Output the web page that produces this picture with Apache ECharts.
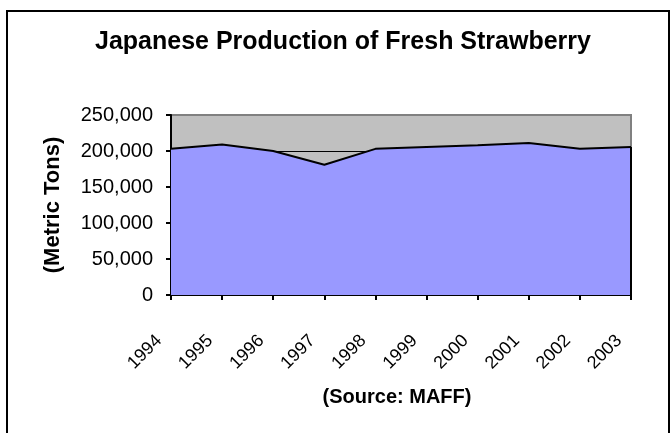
<!DOCTYPE html>
<html>
<head>
<meta charset="utf-8">
<script src="https://cdn.jsdelivr.net/npm/echarts@6/dist/echarts.min.js"></script>
<style>
  html, body { margin: 0; padding: 0; background: #fff; }
  #chart { width: 671px; height: 433px; }
</style>
</head>
<body>
<div id="chart"></div>
<script>
// production data (metric tons)
const years = ['1994', '1995', '1996', '1997', '1998', '1999', '2000', '2001', '2002', '2003']
const production = [203000, 209000, 200000, 181000, 203000, 205500, 208000, 211000, 203000, 205500]
const yTicks = [0, 50000, 100000, 150000, 200000, 250000]

const chart = echarts.init(document.getElementById('chart'))

const fmt = v => v.toLocaleString('en-US')
const lastYear = years[years.length - 1]
const lastValue = production[production.length - 1]

chart.setOption({
  animation: false,
  textStyle: { fontFamily: 'Liberation Sans, Arial, sans-serif' },
  graphic: [
    // outer chart border
    {
      type: 'rect',
      shape: { x: 7, y: 11, width: 662, height: 440 },
      style: { fill: 'none', stroke: '#000', lineWidth: 2 },
      silent: true
    },
    {
      type: 'text',
      x: 343,
      y: 42,
      style: {
        text: 'Japanese Production of Fresh Strawberry',
        font: 'bold 25px "Liberation Sans", Arial, sans-serif',
        fill: '#000',
        align: 'center',
        verticalAlign: 'middle'
      }
    },
    {
      type: 'text',
      x: 397,
      y: 397,
      style: {
        text: '(Source: MAFF)',
        font: 'bold 20px "Liberation Sans", Arial, sans-serif',
        fill: '#000',
        align: 'center',
        verticalAlign: 'middle'
      }
    }
  ],
  grid: {
    left: 171,
    right: 40,
    top: 115,
    bottom: 138,
    show: true,
    backgroundColor: '#C0C0C0',
    borderColor: '#808080',
    borderWidth: 2
  },
  xAxis: {
    type: 'category',
    data: years,
    boundaryGap: false,
    axisLine: { show: true, lineStyle: { color: '#000', width: 2 } },
    axisTick: { show: true, length: 5, lineStyle: { color: '#000', width: 2 } },
    axisLabel: {
      rotate: 45,
      interval: 0,
      margin: 31,
      padding: [0, 17, 0, 0],
      color: '#000',
      fontSize: 18
    },
    splitLine: { show: false }
  },
  yAxis: {
    type: 'value',
    min: 0,
    max: 250000,
    interval: 50000,
    name: '(Metric Tons)',
    nameLocation: 'middle',
    nameRotate: 90,
    nameGap: 107,
    nameTextStyle: { fontSize: 22, fontWeight: 'bold', color: '#000' },
    axisLine: { show: true, lineStyle: { color: '#000', width: 2 } },
    axisTick: { show: true, length: 5, lineStyle: { color: '#000', width: 2 } },
    axisLabel: {
      margin: 18,
      color: '#000',
      fontSize: 20,
      formatter: v => yTicks.includes(v) ? fmt(v) : ''
    },
    splitLine: {
      show: true,
      lineStyle: { color: ['#000', '#000', '#000', '#000', '#000', '#808080'], width: 1 }
    }
  },
  series: [
    {
      name: 'Production',
      type: 'line',
      data: production,
      symbol: 'none',
      lineStyle: { color: '#000', width: 2 },
      areaStyle: { color: '#9999FF', opacity: 1 },
      // closing edge of the area on the right side
      markLine: {
        silent: true,
        symbol: 'none',
        label: { show: false },
        lineStyle: { color: '#000', width: 2, type: 'solid' },
        data: [[{ coord: [lastYear, 0] }, { coord: [lastYear, lastValue] }]]
      }
    }
  ]
})
</script>
</body>
</html>
